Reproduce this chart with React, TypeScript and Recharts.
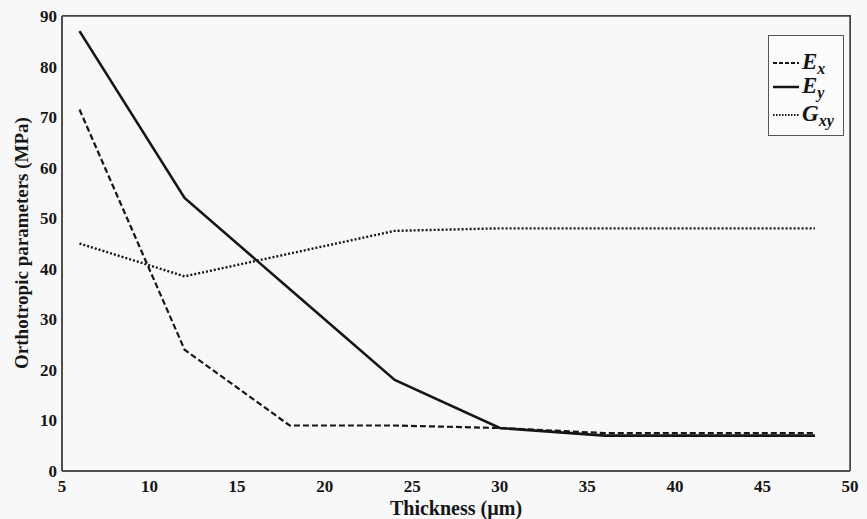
import React from 'react';
import { LineChart, Line, XAxis, YAxis, Label } from 'recharts';

const thickness = [6, 12, 18, 24, 30, 36, 42, 48];
const ex = [71.5, 24, 9, 9, 8.5, 7.5, 7.5, 7.5];
const ey = [87, 54, 36, 18, 8.5, 7, 7, 7];
const gxy = [45, 38.5, 43, 47.5, 48, 48, 48, 48];
const xTicks = [5, 10, 15, 20, 25, 30, 35, 40, 45, 50];
const yTicks = [0, 10, 20, 30, 40, 50, 60, 70, 80, 90];

const data = thickness.map((t, i) => ({ t, ex: ex[i], ey: ey[i], gxy: gxy[i] }));

const FONT = '"Liberation Serif", "DejaVu Serif", serif';
const INK = '#161616';
const AXIS = '#444';
const TICK_LINE = { stroke: AXIS, strokeWidth: 1.5 };

const LegendBox = () => (
  <div
    style={{
      position: 'absolute',
      left: 768,
      top: 35,
      width: 76,
      height: 101,
      border: '1.5px solid #555',
      background: '#fbfbfb',
      boxSizing: 'border-box',
    }}
  >
    <svg width={73} height={98} style={{ display: 'block' }}>
      <line x1={4} x2={30} y1={27} y2={27} stroke={INK} strokeWidth={2} strokeDasharray="4 2" />
      <text x={33} y={33} fontSize={23} fontFamily={FONT} fontWeight="bold" fontStyle="italic" fill={INK}>
        E<tspan fontSize={16} dy={5}>x</tspan>
      </text>
      <line x1={4} x2={30} y1={51} y2={51} stroke={INK} strokeWidth={2.5} />
      <text x={33} y={57} fontSize={23} fontFamily={FONT} fontWeight="bold" fontStyle="italic" fill={INK}>
        E<tspan fontSize={16} dy={5}>y</tspan>
      </text>
      <line x1={4} x2={30} y1={79} y2={79} stroke={INK} strokeWidth={2} strokeDasharray="1.5 1.5" />
      <text x={33} y={85} fontSize={23} fontFamily={FONT} fontWeight="bold" fontStyle="italic" fill={INK}>
        G<tspan fontSize={16} dy={5}>xy</tspan>
      </text>
    </svg>
  </div>
);

// Overlay chart: same plot box, only the axis frame with inward tick marks.
const FrameChart = () => (
  <div style={{ position: 'absolute', left: 0, top: 0, pointerEvents: 'none' }}>
    <LineChart width={867} height={519} data={data} margin={{ top: 0, right: 0, bottom: 0, left: 0 }}>
      <XAxis
        dataKey="t"
        type="number"
        domain={[5, 50]}
        ticks={xTicks}
        interval={0}
        height={48}
        tickSize={-6}
        tickLine={TICK_LINE}
        tick={false}
        stroke={AXIS}
        strokeWidth={1.5}
      />
      <XAxis
        xAxisId="top"
        dataKey="t"
        type="number"
        orientation="top"
        domain={[5, 50]}
        ticks={xTicks}
        interval={0}
        height={16}
        tickSize={-6}
        tickLine={TICK_LINE}
        tick={false}
        stroke={AXIS}
        strokeWidth={1.5}
      />
      <YAxis
        type="number"
        domain={[0, 90]}
        ticks={yTicks}
        interval={0}
        width={62}
        tickSize={-6}
        tickLine={TICK_LINE}
        tick={false}
        stroke={AXIS}
        strokeWidth={1.5}
      />
      <YAxis
        yAxisId="right"
        type="number"
        orientation="right"
        domain={[0, 90]}
        ticks={yTicks}
        interval={0}
        width={17}
        tickSize={-6}
        tickLine={TICK_LINE}
        tick={false}
        stroke={AXIS}
        strokeWidth={1.5}
      />
      <Line dataKey="ex" stroke="transparent" dot={false} isAnimationActive={false} />
    </LineChart>
  </div>
);

export default function App() {
  const tickStyle = { fontFamily: FONT, fontWeight: 'bold', fontSize: 17, fill: INK };
  return (
    <div style={{ position: 'absolute', left: 0, top: 0, width: 867, height: 519, background: '#f8f8f8' }}>
      <div style={{ position: 'absolute', left: 0, top: 0 }}>
        <LineChart width={867} height={519} data={data} margin={{ top: 0, right: 0, bottom: 0, left: 0 }}>
          <XAxis
            dataKey="t"
            type="number"
            domain={[5, 50]}
            ticks={xTicks}
            interval={0}
            height={48}
            tickSize={-6}
            tickLine={false}
            tickMargin={15}
            tick={tickStyle}
            stroke={AXIS}
            strokeWidth={1.5}
          >
            <Label
              content={() => (
                <text x={456} y={515} textAnchor="middle" fontFamily={FONT} fontWeight="bold" fontSize={20} fill={INK}>
                  Thickness (µm)
                </text>
              )}
            />
          </XAxis>
          <XAxis
            xAxisId="top"
            dataKey="t"
            type="number"
            orientation="top"
            domain={[5, 50]}
            height={16}
            tick={false}
            tickLine={false}
            axisLine={false}
          />
          <YAxis
            type="number"
            domain={[0, 90]}
            ticks={yTicks}
            interval={0}
            width={62}
            tickSize={-6}
            tickLine={false}
            tickMargin={11}
            tick={tickStyle}
            stroke={AXIS}
            strokeWidth={1.5}
          >
            <Label
              content={() => (
                <text
                  x={0}
                  y={0}
                  transform="translate(28,243) rotate(-90)"
                  textAnchor="middle"
                  fontFamily={FONT}
                  fontWeight="bold"
                  fontSize={19}
                  fill={INK}
                >
                  Orthotropic parameters (MPa)
                </text>
              )}
            />
          </YAxis>
          <YAxis
            yAxisId="right"
            type="number"
            orientation="right"
            domain={[0, 90]}
            width={17}
            tick={false}
            tickLine={false}
            axisLine={false}
          />
          <Line dataKey="ex" stroke={INK} strokeWidth={2.2} strokeDasharray="6 3" dot={false} isAnimationActive={false} />
          <Line dataKey="ey" stroke={INK} strokeWidth={2.6} dot={false} isAnimationActive={false} />
          <Line dataKey="gxy" stroke={INK} strokeWidth={2.4} strokeDasharray="2 2" dot={false} isAnimationActive={false} />
        </LineChart>
      </div>
      {/* plot-area frame (top and right edges) as a fallback border */}
      <div
        style={{
          position: 'absolute',
          left: 62,
          top: 15,
          width: 789,
          height: 456,
          borderTop: '1.5px solid #444',
          borderRight: '1.5px solid #444',
          boxSizing: 'border-box',
          pointerEvents: 'none',
        }}
      />
      <FrameChart />
      <LegendBox />
    </div>
  );
}
